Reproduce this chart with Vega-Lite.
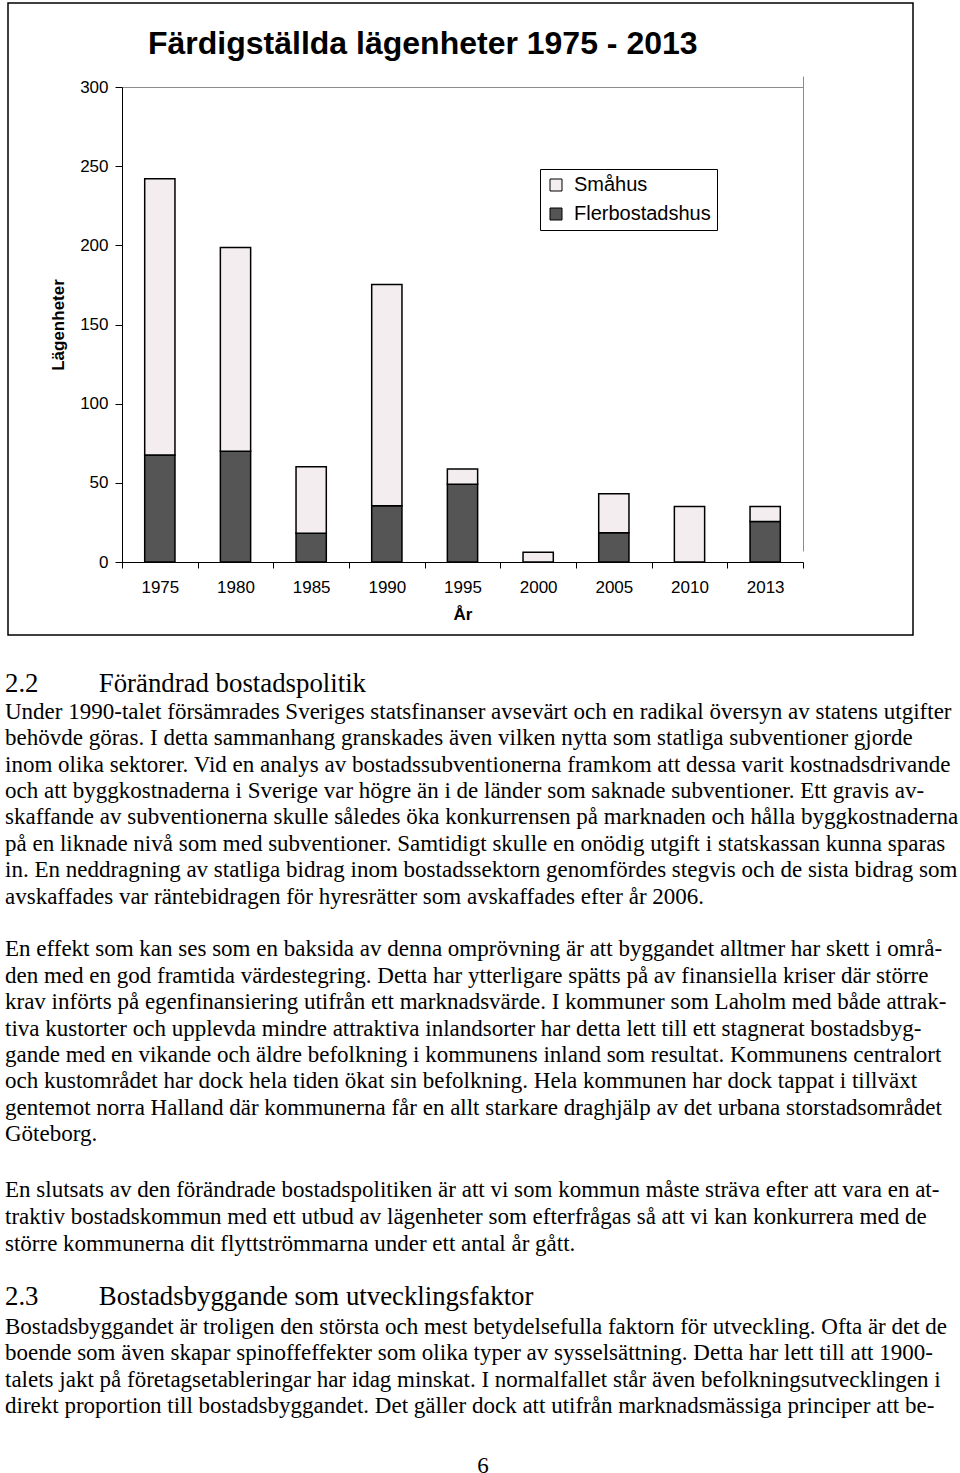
{
  "$schema": "https://vega.github.io/schema/vega-lite/v6.json",
  "padding": {"left": 5, "top": 2, "right": 0, "bottom": 12},
  "background": "white",
  "bounds": "flush",
  "center": true,
  "spacing": 0,
  "config": {"font": "Liberation Sans", "view": {"stroke": null}},
  "datasets": {
    "bars": [
      {"year": "1975", "type": "Flerbostadshus", "value": 67.6},
      {"year": "1975", "type": "Småhus", "value": 174.4},
      {"year": "1980", "type": "Flerbostadshus", "value": 70.0},
      {"year": "1980", "type": "Småhus", "value": 128.6},
      {"year": "1985", "type": "Flerbostadshus", "value": 18.1},
      {"year": "1985", "type": "Småhus", "value": 42.1},
      {"year": "1990", "type": "Flerbostadshus", "value": 35.5},
      {"year": "1990", "type": "Småhus", "value": 139.7},
      {"year": "1995", "type": "Flerbostadshus", "value": 49.1},
      {"year": "1995", "type": "Småhus", "value": 9.6},
      {"year": "2000", "type": "Flerbostadshus", "value": 0},
      {"year": "2000", "type": "Småhus", "value": 6.2},
      {"year": "2005", "type": "Flerbostadshus", "value": 18.4},
      {"year": "2005", "type": "Småhus", "value": 24.7},
      {"year": "2010", "type": "Flerbostadshus", "value": 0},
      {"year": "2010", "type": "Småhus", "value": 35.1},
      {"year": "2013", "type": "Flerbostadshus", "value": 25.6},
      {"year": "2013", "type": "Småhus", "value": 9.5}
    ],
    "lines": [
      {"line": -1, "kind": "heading", "text": "2.2\u00a0\u00a0\u00a0\u00a0\u00a0\u00a0\u00a0\u00a0\u00a0Förändrad bostadspolitik"},
      {"line": 0, "kind": "body", "text": "Under 1990-talet försämrades Sveriges statsfinanser avsevärt och en radikal översyn av statens utgifter"},
      {"line": 1, "kind": "body", "text": "behövde göras. I detta sammanhang granskades även vilken nytta som statliga subventioner gjorde"},
      {"line": 2, "kind": "body", "text": "inom olika sektorer. Vid en analys av bostadssubventionerna framkom att dessa varit kostnadsdrivande"},
      {"line": 3, "kind": "body", "text": "och att byggkostnaderna i Sverige var högre än i de länder som saknade subventioner. Ett gravis av-"},
      {"line": 4, "kind": "body", "text": "skaffande av subventionerna skulle således öka konkurrensen på marknaden och hålla byggkostnaderna"},
      {"line": 5, "kind": "body", "text": "på en liknade nivå som med subventioner. Samtidigt skulle en onödig utgift i statskassan kunna sparas"},
      {"line": 6, "kind": "body", "text": "in. En neddragning av statliga bidrag inom bostadssektorn genomfördes stegvis och de sista bidrag som"},
      {"line": 7, "kind": "body", "text": "avskaffades var räntebidragen för hyresrätter som avskaffades efter år 2006."},
      {"line": 9, "kind": "body", "text": "En effekt som kan ses som en baksida av denna omprövning är att byggandet alltmer har skett i områ-"},
      {"line": 10, "kind": "body", "text": "den med en god framtida värdestegring. Detta har ytterligare spätts på av finansiella kriser där större"},
      {"line": 11, "kind": "body", "text": "krav införts på egenfinansiering utifrån ett marknadsvärde. I kommuner som Laholm med både attrak-"},
      {"line": 12, "kind": "body", "text": "tiva kustorter och upplevda mindre attraktiva inlandsorter har detta lett till ett stagnerat bostadsbyg-"},
      {"line": 13, "kind": "body", "text": "gande med en vikande och äldre befolkning i kommunens inland som resultat. Kommunens centralort"},
      {"line": 14, "kind": "body", "text": "och kustområdet har dock hela tiden ökat sin befolkning. Hela kommunen har dock tappat i tillväxt"},
      {"line": 15, "kind": "body", "text": "gentemot norra Halland där kommunerna får en allt starkare draghjälp av det urbana storstadsområdet"},
      {"line": 16, "kind": "body", "text": "Göteborg."},
      {"line": 18, "kind": "body", "text": "En slutsats av den förändrade bostadspolitiken är att vi som kommun måste sträva efter att vara en at-"},
      {"line": 19, "kind": "body", "text": "traktiv bostadskommun med ett utbud av lägenheter som efterfrågas så att vi kan konkurrera med de"},
      {"line": 20, "kind": "body", "text": "större kommunerna dit flyttströmmarna under ett antal år gått."},
      {"line": 22, "kind": "heading", "text": "2.3\u00a0\u00a0\u00a0\u00a0\u00a0\u00a0\u00a0\u00a0\u00a0Bostadsbyggande som utvecklingsfaktor"},
      {"line": 23, "kind": "body", "text": "Bostadsbyggandet är troligen den största och mest betydelsefulla faktorn för utveckling. Ofta är det de"},
      {"line": 24, "kind": "body", "text": "boende som även skapar spinoffeffekter som olika typer av sysselsättning. Detta har lett till att 1900-"},
      {"line": 25, "kind": "body", "text": "talets jakt på företagsetableringar har idag minskat. I normalfallet står även befolkningsutvecklingen i"},
      {"line": 26, "kind": "body", "text": "direkt proportion till bostadsbyggandet. Det gäller dock att utifrån marknadsmässiga principer att be-"}
    ]
  },
  "vconcat": [
    {
      "width": 905,
      "height": 632,
      "view": {"stroke": "black", "strokeWidth": 1.5},
      "title": {
        "text": "Färdigställda lägenheter 1975 - 2013",
        "anchor": "start",
        "dx": 140,
        "offset": -83,
        "baseline": "alphabetic",
        "font": "Liberation Sans",
        "fontSize": 32,
        "fontWeight": "bold",
        "color": "black"
      },
      "data": {"name": "bars"},
      "mark": {"type": "bar", "stroke": "black", "strokeWidth": 1.5, "width": {"band": 0.4}},
      "encoding": {
        "x": {
          "field": "year",
          "type": "ordinal",
          "scale": {"range": [114, 795], "paddingInner": 0, "paddingOuter": 0},
          "axis": {
            "orient": "bottom",
            "offset": -73,
            "tickBand": "extent",
            "labelAngle": 0,
            "domainColor": "black",
            "domainWidth": 1,
            "tickColor": "black",
            "tickSize": 6,
            "tickWidth": 1,
            "labelFont": "Liberation Sans",
            "labelFontSize": 17,
            "labelColor": "black",
            "labelPadding": 11,
            "title": "År",
            "titleFont": "Liberation Sans",
            "titleFontSize": 17,
            "titleFontWeight": "bold",
            "titleColor": "black",
            "titlePadding": 11,
            "grid": true,
            "gridColor": "#8c8c8c",
            "gridWidth": 1,
            "gridOpacity": {"condition": {"test": "datum.value === '2013'", "value": 1}, "value": 0}
          }
        },
        "y": {
          "field": "value",
          "type": "quantitative",
          "stack": "zero",
          "scale": {"domain": [0, 300], "range": [559, 84], "nice": false},
          "axis": {
            "orient": "left",
            "offset": -114,
            "values": [0, 50, 100, 150, 200, 250, 300],
            "domainColor": "black",
            "domainWidth": 1,
            "tickColor": "black",
            "tickSize": 7,
            "tickWidth": 1,
            "labelFont": "Liberation Sans",
            "labelFontSize": 17,
            "labelColor": "black",
            "labelPadding": 7,
            "title": "Lägenheter",
            "titleFont": "Liberation Sans",
            "titleFontSize": 17,
            "titleFontWeight": "bold",
            "titleColor": "black",
            "titlePadding": 12,
            "grid": true,
            "gridColor": "#8c8c8c",
            "gridWidth": 1,
            "gridOpacity": {"condition": {"test": "datum.value === 300", "value": 1}, "value": 0}
          }
        },
        "color": {
          "field": "type",
          "type": "nominal",
          "scale": {"domain": ["Småhus", "Flerbostadshus"], "range": ["#f3edef", "#555555"]},
          "legend": {
            "orient": "none",
            "legendX": 535,
            "legendY": 166,
            "title": null,
            "strokeColor": "black",
            "fillColor": "white",
            "padding": 6,
            "symbolType": "square",
            "symbolSize": 144,
            "symbolStrokeColor": "black",
            "symbolStrokeWidth": 1,
            "symbolOpacity": 1,
            "labelFont": "Liberation Sans",
            "labelFontSize": 20,
            "labelColor": "black",
            "labelOffset": 8,
            "rowPadding": 9
          }
        },
        "order": {"field": "type", "sort": "ascending"}
      }
    },
    {
      "width": 911,
      "height": 533,
      "data": {"name": "lines"},
      "transform": [{"filter": "datum.line <= 16"}],
      "mark": {"type": "text", "align": "left", "baseline": "alphabetic", "font": "Liberation Serif", "color": "black"},
      "encoding": {
        "x": {"datum": 0, "type": "quantitative", "scale": {"domain": [0, 1]}, "axis": null},
        "y": {"field": "line", "type": "quantitative", "scale": {"domain": [-3.174, 17.015], "reverse": true, "nice": false, "zero": false}, "axis": null},
        "text": {"field": "text"},
        "size": {"field": "kind", "type": "nominal", "scale": {"domain": ["body", "heading"], "range": [23, 26.8]}, "legend": null}
      }
    },
    {
      "width": 911,
      "height": 143,
      "data": {"name": "lines"},
      "transform": [{"filter": "datum.line >= 18 && datum.line <= 22"}],
      "mark": {"type": "text", "align": "left", "baseline": "alphabetic", "font": "Liberation Serif", "color": "black"},
      "encoding": {
        "x": {"datum": 0, "type": "quantitative", "scale": {"domain": [0, 1]}, "axis": null},
        "y": {"field": "line", "type": "quantitative", "scale": {"domain": [16.922, 22.238], "reverse": true, "nice": false, "zero": false}, "axis": null},
        "text": {"field": "text"},
        "size": {"field": "kind", "type": "nominal", "scale": {"domain": ["body", "heading"], "range": [23, 26.8]}, "legend": null}
      }
    },
    {
      "width": 911,
      "height": 130,
      "data": {"name": "lines"},
      "transform": [{"filter": "datum.line >= 23"}],
      "title": {
        "text": "6",
        "orient": "bottom",
        "anchor": "middle",
        "dx": 22.5,
        "offset": 32,
        "baseline": "alphabetic",
        "font": "Liberation Serif",
        "fontSize": 23,
        "fontWeight": "normal",
        "color": "black"
      },
      "mark": {"type": "text", "align": "left", "baseline": "alphabetic", "font": "Liberation Serif", "color": "black"},
      "encoding": {
        "x": {"datum": 0, "type": "quantitative", "scale": {"domain": [0, 1]}, "axis": null},
        "y": {"field": "line", "type": "quantitative", "scale": {"domain": [22.129, 27.053], "reverse": true, "nice": false, "zero": false}, "axis": null},
        "text": {"field": "text"},
        "size": {"field": "kind", "type": "nominal", "scale": {"domain": ["body", "heading"], "range": [23, 26.8]}, "legend": null}
      }
    }
  ]
}
